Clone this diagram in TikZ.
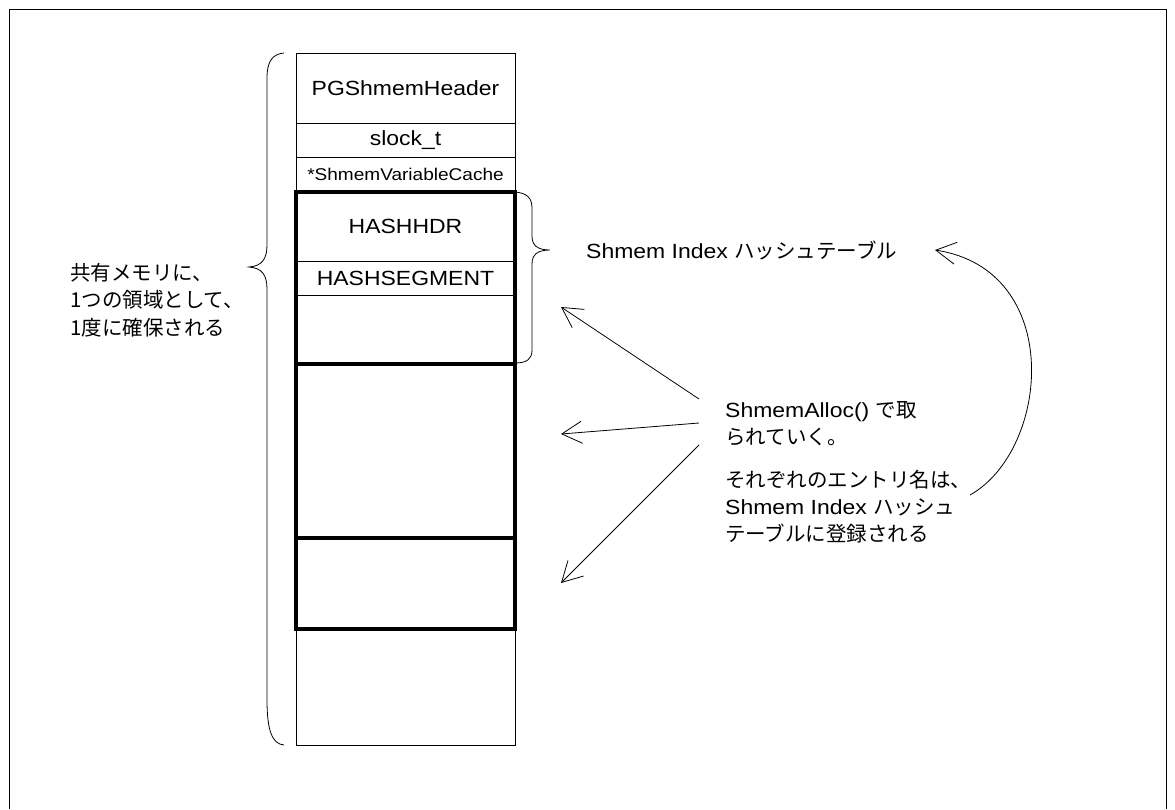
\documentclass[tikz,border=0pt]{standalone}
\usepackage{fontspec}
\setmainfont{Liberation Sans}[FakeStretch=1.12]
\newfontfamily\jp{Noto Sans CJK JP}
\usetikzlibrary{arrows.meta}
\begin{document}
\begin{tikzpicture}[x=1pt,y=-1pt,
  cell/.style={draw, line width=0.8pt, minimum width=219pt, inner sep=0pt, outer sep=0pt, anchor=north, font=\fontsize{20.5}{24}\selectfont},
  thickbox/.style={line width=3.5pt},
  brace/.style={line width=0.8pt},
  ptr/.style={line width=0.8pt, -{Straight Barb[length=20pt,width=22pt]}},
  lbl/.style={align=left, anchor=west, inner sep=0pt, font=\fontsize{20.5}{27}\selectfont}]
\useasboundingbox (0,0) rectangle (1175,809);
\draw[line width=0.8pt] (9,809) -- (9,9) -- (1166,9) -- (1166,809);

% memory column
\node[cell, minimum height=70pt] (hdr) at (405.5,53) {PGShmemHeader};
\node[cell, minimum height=34pt] (slock) at (hdr.south) {slock\_t};
\node[cell, minimum height=35pt, font=\fontsize{17}{20}\selectfont] (cache) at (slock.south) {*ShmemVariableCache};
\node[cell, minimum height=69pt] (hhdr) at (cache.south) {HASHHDR};
\node[cell, minimum height=34pt] (hseg) at (hhdr.south) {HASHSEGMENT};
\node[cell, minimum height=69pt] (hrest) at (hseg.south) {};
\node[cell, minimum height=174pt] (blk2) at (hrest.south) {};
\node[cell, minimum height=91pt] (blk3) at (blk2.south) {};
\node[cell, minimum height=116pt] (free) at (blk3.south) {};

\draw[thickbox] (hhdr.north west) rectangle (hrest.south east);
\draw[thickbox] (blk2.north west) rectangle (blk2.south east);
\draw[thickbox] (blk3.north west) rectangle (blk3.south east);

% braces
\draw[brace] (284,53) .. controls (272,54) and (267,62) .. (267,78) -- (267,245)
  .. controls (267,259) and (262,266) .. (249,267)
  .. controls (262,268) and (267,275) .. (267,289) -- (267,700)
  .. controls (267,730) and (272,744) .. (284,745);
\draw[brace] (515,192) .. controls (527,193) and (532,198) .. (532,208) -- (532,236)
  .. controls (532,245) and (537,250) .. (550,250)
  .. controls (537,250) and (532,255) .. (532,264) -- (532,350)
  .. controls (532,359) and (527,363) .. (515,363);

% texts
\node[lbl, font=\jp\fontsize{20.5}{27.5}\selectfont] (shared) at (70,300) {共有メモリに、\\1つの領域として、\\1度に確保される};
\node[lbl] (idx) at (586,250) {Shmem Index {\jp ハッシュテーブル}};
\node[lbl] (alloc) at (725,423.5) {ShmemAlloc() {\jp で取}\\{\jp られていく。}};
\node[lbl] (entry) at (725,507) {{\jp それぞれのエントリ名は、}\\Shmem Index {\jp ハッシュ}\\{\jp テーブルに登録される}};

% arrows
\coordinate (a1) at (699,399); \coordinate (t1) at (561,307);
\coordinate (a2) at (699,423); \coordinate (t2) at (561,434);
\coordinate (a3) at (699,445); \coordinate (t3) at (561,583);
\draw[ptr] (a1) -- (t1);
\draw[ptr] (a2) -- (t2);
\draw[ptr] (a3) -- (t3);
\coordinate (c0) at (970,495); \coordinate (c1) at (935,250);
\draw[ptr] (c0) .. controls (1050,450) and (1065,270) .. (c1);
\end{tikzpicture}
\end{document}
